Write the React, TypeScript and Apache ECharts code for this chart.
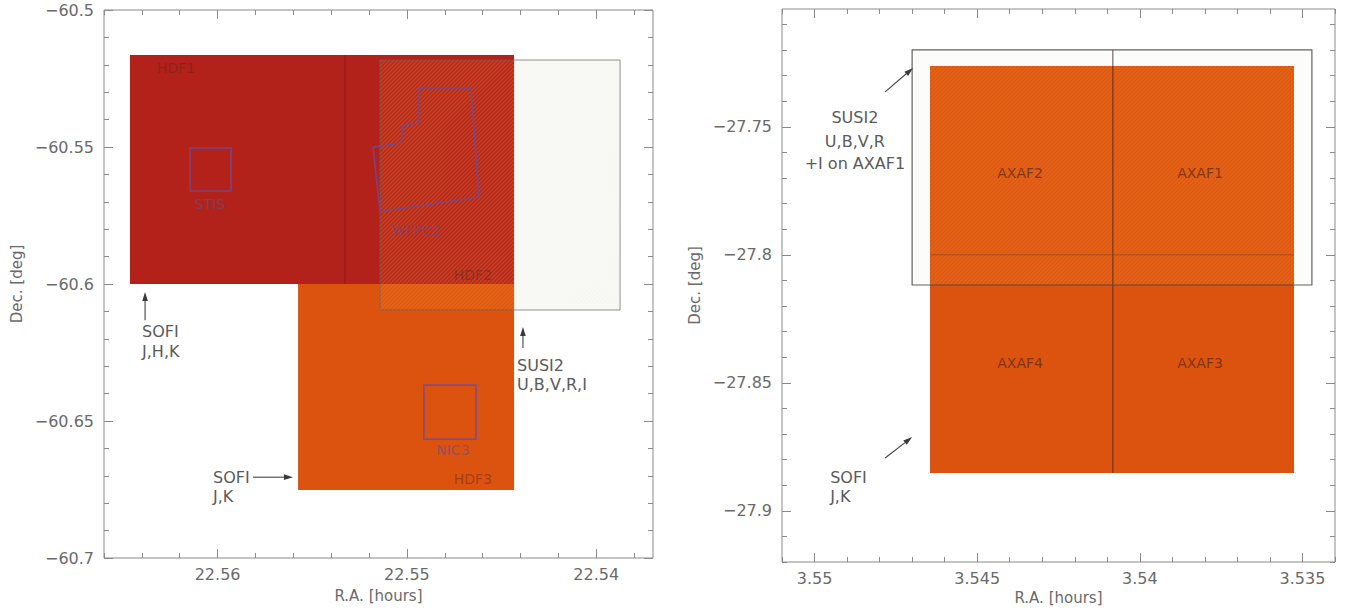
import { useEffect, useRef } from "react";
import * as echarts from "echarts";

// ---------------- Left panel (HDF-South) ----------------
const leftXRange = [22.537, 22.566];
const leftYRange = [-60.7, -60.5];
const leftXTicks = [22.54, 22.55, 22.56];
const leftYTicks = [-60.7, -60.65, -60.6, -60.55, -60.5];
const leftXMinorStep = 0.002;
const leftYMinorStep = 0.01;

// rectangles: [raA, decA, raB, decB]
const sofiJHK = [22.56463, -60.5164, 22.54434, -60.6];
const sofiJK = [22.55575, -60.6, 22.54434, -60.6752];
const susi2Left = [22.55142, -60.51825, 22.53874, -60.6095];
const sofiSeamLeft = [[22.55327, -60.5164], [22.55327, -60.6]];
const stisBox = [22.56146, -60.55037, 22.55929, -60.56607];
const nic3Box = [22.5491, -60.6369, 22.54635, -60.6566];
const wfpc2Outline = [
  [22.54936, -60.52847],
  [22.54662, -60.52847],
  [22.54619, -60.56826],
  [22.55089, -60.573],
  [22.55142, -60.57373],
  [22.55179, -60.55],
  [22.55031, -60.54855],
  [22.5502, -60.54198],
  [22.54936, -60.54125],
  [22.54936, -60.52847],
];

const leftFieldLabels = [
  { text: "HDF1", ra: 22.5632, dec: -60.5212 },
  { text: "HDF2", ra: 22.5455, dec: -60.5967 },
  { text: "HDF3", ra: 22.5455, dec: -60.6712 },
];
const leftHstLabels = [
  { text: "STIS", ra: 22.5604, dec: -60.5708 },
  { text: "WFPC2", ra: 22.54952, dec: -60.5803 },
  { text: "NIC3", ra: 22.54757, dec: -60.6606 },
];
const leftNotes = [
  { text: "SOFI", ra: 22.56399, dec: -60.6172 },
  { text: "J,H,K", ra: 22.56399, dec: -60.6245 },
  { text: "SOFI", ra: 22.56024, dec: -60.6705 },
  { text: "J,K", ra: 22.56024, dec: -60.6774 },
  { text: "SUSI2", ra: 22.54418, dec: -60.6299 },
  { text: "U,B,V,R,I", ra: 22.54418, dec: -60.6365 },
];
// arrows: [raFrom, decFrom, raTo, decTo]
const leftArrows = [
  [22.56383, -60.6132, 22.56383, -60.6029],
  [22.55813, -60.6705, 22.55602, -60.6705],
  [22.54387, -60.6234, 22.54387, -60.6157],
];

// ---------------- Right panel (HDF/AXAF field) ----------------
const rightXRange = [3.534, 3.551];
const rightYRange = [-27.92, -27.704];
const rightXTicks = [3.55, 3.545, 3.54, 3.535];
const rightYTicks = [-27.9, -27.85, -27.8, -27.75];
const rightXMinorStep = 0.001;
const rightYMinorStep = 0.01;

const sofiAxaf = [3.54645, -27.7263, 3.53526, -27.8852];
const susi2Right = [3.547, -27.72, 3.53471, -27.8118];
const axafSeamV = [[3.54083, -27.72], [3.54083, -27.8852]];
const axafSeamH = [[3.54645, -27.8], [3.53526, -27.8]];

const rightFieldLabels = [
  { text: "AXAF2", ra: 3.54368, dec: -27.7681 },
  { text: "AXAF1", ra: 3.53815, dec: -27.7681 },
  { text: "AXAF4", ra: 3.54368, dec: -27.8423 },
  { text: "AXAF3", ra: 3.53815, dec: -27.8423 },
];
const rightNotesCenter = [
  { text: "SUSI2", ra: 3.54876, dec: -27.7462 },
  { text: "U,B,V,R", ra: 3.54876, dec: -27.7556 },
  { text: "+I on AXAF1", ra: 3.54876, dec: -27.7645 },
];
const rightNotesLeft = [
  { text: "SOFI", ra: 3.54952, dec: -27.8868 },
  { text: "J,K", ra: 3.54952, dec: -27.8946 },
];
const rightArrows = [
  [3.54783, -27.7364, 3.54697, -27.727],
  [3.54783, -27.8794, 3.547, -27.8712],
];

// ---------------- helpers ----------------
const FONT = "DejaVu Sans";
const AXIS_COLOR = "#8a8a8a";
const LABEL_COLOR = "#6a6a6a";
const NOTE_COLOR = "#5a5a5a";

function steps(lo: number, hi: number, step: number) {
  const out: number[] = [];
  const start = Math.ceil(lo / step - 1e-9);
  const end = Math.floor(hi / step + 1e-9);
  for (let i = start; i <= end; i++) out.push(+(i * step).toFixed(6));
  return out;
}

function overlap(a: number[], b: number[]) {
  const raLo = Math.max(Math.min(a[0], a[2]), Math.min(b[0], b[2]));
  const raHi = Math.min(Math.max(a[0], a[2]), Math.max(b[0], b[2]));
  const deLo = Math.max(Math.min(a[1], a[3]), Math.min(b[1], b[3]));
  const deHi = Math.min(Math.max(a[1], a[3]), Math.max(b[1], b[3]));
  return [raHi, deHi, raLo, deLo];
}

const fmt = (v: number) => (v < 0 ? "\u2212" + String(Math.abs(v)) : String(v));

function pixRect(api: any) {
  const a = api.coord([api.value(0), api.value(1)]);
  const b = api.coord([api.value(2), api.value(3)]);
  return {
    x: Math.min(a[0], b[0]),
    y: Math.min(a[1], b[1]),
    width: Math.abs(a[0] - b[0]),
    height: Math.abs(a[1] - b[1]),
  };
}

function rectSeries(ai: number, rects: number[][], style: any, z: number) {
  return {
    type: "custom",
    xAxisIndex: ai,
    yAxisIndex: ai,
    z,
    silent: true,
    data: rects,
    renderItem: (_p: any, api: any) => ({ type: "rect", shape: pixRect(api), style }),
  };
}

function hatchSeries(ai: number, rects: number[][], fill: string, stroke: string, spacing: number, z: number) {
  return {
    type: "custom",
    xAxisIndex: ai,
    yAxisIndex: ai,
    z,
    silent: true,
    data: rects,
    renderItem: (_p: any, api: any) => {
      const r = pixRect(api);
      const x0 = r.x, y0 = r.y, x1 = r.x + r.width, y1 = r.y + r.height;
      const children: any[] = [{ type: "rect", shape: r, style: { fill } }];
      for (let c = x0 + y0 + spacing / 2; c < x1 + y1; c += spacing) {
        const sx = Math.max(x0, c - y1);
        const ex = Math.min(x1, c - y0);
        if (ex <= sx) continue;
        children.push({
          type: "line",
          shape: { x1: sx, y1: c - sx, x2: ex, y2: c - ex },
          style: { stroke, lineWidth: 1.2 },
        });
      }
      return { type: "group", children };
    },
  };
}

function lineSeries(ai: number, pts: number[][], color: string, width: number, z: number) {
  return {
    type: "line",
    xAxisIndex: ai,
    yAxisIndex: ai,
    z,
    silent: true,
    symbol: "none",
    data: pts,
    lineStyle: { color, width },
  };
}

function textSeries(ai: number, items: any[], color: string, size: number, align: string, z: number) {
  return {
    type: "custom",
    xAxisIndex: ai,
    yAxisIndex: ai,
    z,
    silent: true,
    data: items.map((d) => [d.ra, d.dec]),
    renderItem: (params: any, api: any) => {
      const p = api.coord([api.value(0), api.value(1)]);
      return {
        type: "text",
        x: p[0],
        y: p[1],
        style: {
          text: items[params.dataIndex].text,
          fill: color,
          fontSize: size,
          fontFamily: FONT,
          align,
          verticalAlign: "middle",
        },
      };
    },
  };
}

function arrowSeries(ai: number, arrows: number[][], z: number) {
  return {
    type: "custom",
    xAxisIndex: ai,
    yAxisIndex: ai,
    z,
    silent: true,
    data: arrows,
    renderItem: (_p: any, api: any) => {
      const a = api.coord([api.value(0), api.value(1)]);
      const b = api.coord([api.value(2), api.value(3)]);
      const dx = b[0] - a[0], dy = b[1] - a[1];
      const L = Math.hypot(dx, dy) || 1;
      const ux = dx / L, uy = dy / L;
      const nx = -uy, ny = ux;
      const hl = 9, hw = 2.8;
      const bx = b[0] - ux * hl, by = b[1] - uy * hl;
      return {
        type: "group",
        children: [
          { type: "line", shape: { x1: a[0], y1: a[1], x2: bx, y2: by }, style: { stroke: "#444", lineWidth: 1.1 } },
          {
            type: "polygon",
            shape: { points: [[b[0], b[1]], [bx + nx * hw, by + ny * hw], [bx - nx * hw, by - ny * hw]] },
            style: { fill: "#3a3a3a" },
          },
        ],
      };
    },
  };
}

function makeAxes(dim: "x" | "y", grid: number, range: number[], majors: number[], minors: number[], name: string, nameGap: number) {
  const isX = dim === "x";
  const base: any = {
    type: "value",
    gridIndex: grid,
    min: range[0],
    max: range[1],
    inverse: isX,
    axisLine: { show: false, onZero: false },
    splitLine: { show: false },
    axisLabel: { show: false },
    axisTick: { show: false },
  };
  const tick = (len: number, vals: number[]) => ({
    show: true,
    inside: true,
    length: len,
    customValues: vals,
    lineStyle: { color: AXIS_COLOR, width: 1 },
  });
  const p1 = isX ? "bottom" : "left";
  const p2 = isX ? "top" : "right";
  return [
    {
      ...base,
      position: p1,
      name,
      nameLocation: "middle",
      nameGap,
      nameTextStyle: { color: LABEL_COLOR, fontSize: 15, fontFamily: FONT },
      axisLabel: {
        show: true,
        customValues: majors,
        formatter: fmt,
        color: LABEL_COLOR,
        fontSize: 16,
        fontFamily: FONT,
        margin: isX ? 8 : 10,
      },
      axisTick: tick(9, majors),
    },
    { ...base, position: p2, axisTick: tick(9, majors) },
    { ...base, position: p1, axisTick: tick(5, minors) },
    { ...base, position: p2, axisTick: tick(5, minors) },
  ];
}

const RED = "#B2221A";
const ORANGE = "#DC530F";
const PURPLE = "rgba(105,75,160,0.8)";
const HST_LABEL = "rgba(105,75,140,0.6)";
const FIELD_LABEL = "rgba(90,35,30,0.45)";
const HATCH_FILL = "rgba(255,170,70,0.06)";
const HATCH_STROKE = "rgba(255,150,60,0.24)";

export default function App() {
  const ref = useRef<HTMLDivElement>(null);
  useEffect(() => {
    if (!ref.current) return;
    const chart = echarts.init(ref.current, undefined, { renderer: "svg" });
    const L = 0;
    const R = 4;
    const option: any = {
      animation: false,
      backgroundColor: "#ffffff",
      grid: [
        { left: 104, top: 10, width: 549, height: 548, show: true, borderColor: AXIS_COLOR, borderWidth: 1 },
        { left: 782, top: 9, width: 553, height: 553, show: true, borderColor: AXIS_COLOR, borderWidth: 1 },
      ],
      xAxis: [
        ...makeAxes("x", 0, leftXRange, leftXTicks, steps(leftXRange[0], leftXRange[1], leftXMinorStep), "R.A. [hours]", 30),
        ...makeAxes("x", 1, rightXRange, rightXTicks, steps(rightXRange[0], rightXRange[1], rightXMinorStep), "R.A. [hours]", 28),
      ],
      yAxis: [
        ...makeAxes("y", 0, leftYRange, leftYTicks, steps(leftYRange[0], leftYRange[1], leftYMinorStep), "Dec. [deg]", 80),
        ...makeAxes("y", 1, rightYRange, rightYTicks, steps(rightYRange[0], rightYRange[1], rightYMinorStep), "Dec. [deg]", 80),
      ],
      series: [
        // left panel
        rectSeries(L, [susi2Left], { fill: "#F9F9F5" }, 1),
        hatchSeries(L, [susi2Left], "rgba(0,0,0,0)", "rgba(0,0,0,0.015)", 4, 2),
        rectSeries(L, [sofiJHK], { fill: RED }, 3),
        rectSeries(L, [sofiJK], { fill: ORANGE }, 3),
        hatchSeries(L, [overlap(susi2Left, sofiJHK), overlap(susi2Left, sofiJK)], HATCH_FILL, HATCH_STROKE, 4, 4),
        lineSeries(L, sofiSeamLeft, "rgba(90,20,15,0.45)", 1, 5),
        rectSeries(L, [susi2Left], { fill: "none", stroke: "rgba(100,100,100,0.7)", lineWidth: 1 }, 6),
        rectSeries(L, [stisBox, nic3Box], { fill: "none", stroke: PURPLE, lineWidth: 1.6 }, 7),
        lineSeries(L, wfpc2Outline, PURPLE, 1.6, 7),
        textSeries(L, leftFieldLabels.slice(0, 1), FIELD_LABEL, 14, "left", 8),
        textSeries(L, leftFieldLabels.slice(1), FIELD_LABEL, 14, "right", 8),
        textSeries(L, leftHstLabels, HST_LABEL, 14, "center", 8),
        textSeries(L, leftNotes, NOTE_COLOR, 16, "left", 8),
        arrowSeries(L, leftArrows, 8),
        // right panel
        rectSeries(R, [susi2Right], { fill: "#FCFCFA" }, 1),
        rectSeries(R, [sofiAxaf], { fill: ORANGE }, 3),
        hatchSeries(R, [overlap(susi2Right, sofiAxaf)], HATCH_FILL, HATCH_STROKE, 4, 4),
        lineSeries(R, axafSeamV, "rgba(70,40,40,0.7)", 1.2, 5),
        lineSeries(R, axafSeamH, "rgba(120,60,40,0.55)", 1, 5),
        rectSeries(R, [susi2Right], { fill: "none", stroke: "rgba(70,70,70,0.85)", lineWidth: 1.2 }, 6),
        textSeries(R, rightFieldLabels, "rgba(70,35,25,0.65)", 14, "center", 8),
        textSeries(R, rightNotesCenter, NOTE_COLOR, 16, "center", 8),
        textSeries(R, rightNotesLeft, NOTE_COLOR, 16, "left", 8),
        arrowSeries(R, rightArrows, 8),
      ],
    };
    chart.setOption(option);
    return () => chart.dispose();
  }, []);
  return (
    <div
      ref={ref}
      style={{ position: "absolute", left: 0, top: 0, width: 1345, height: 611 }}
    />
  );
}
